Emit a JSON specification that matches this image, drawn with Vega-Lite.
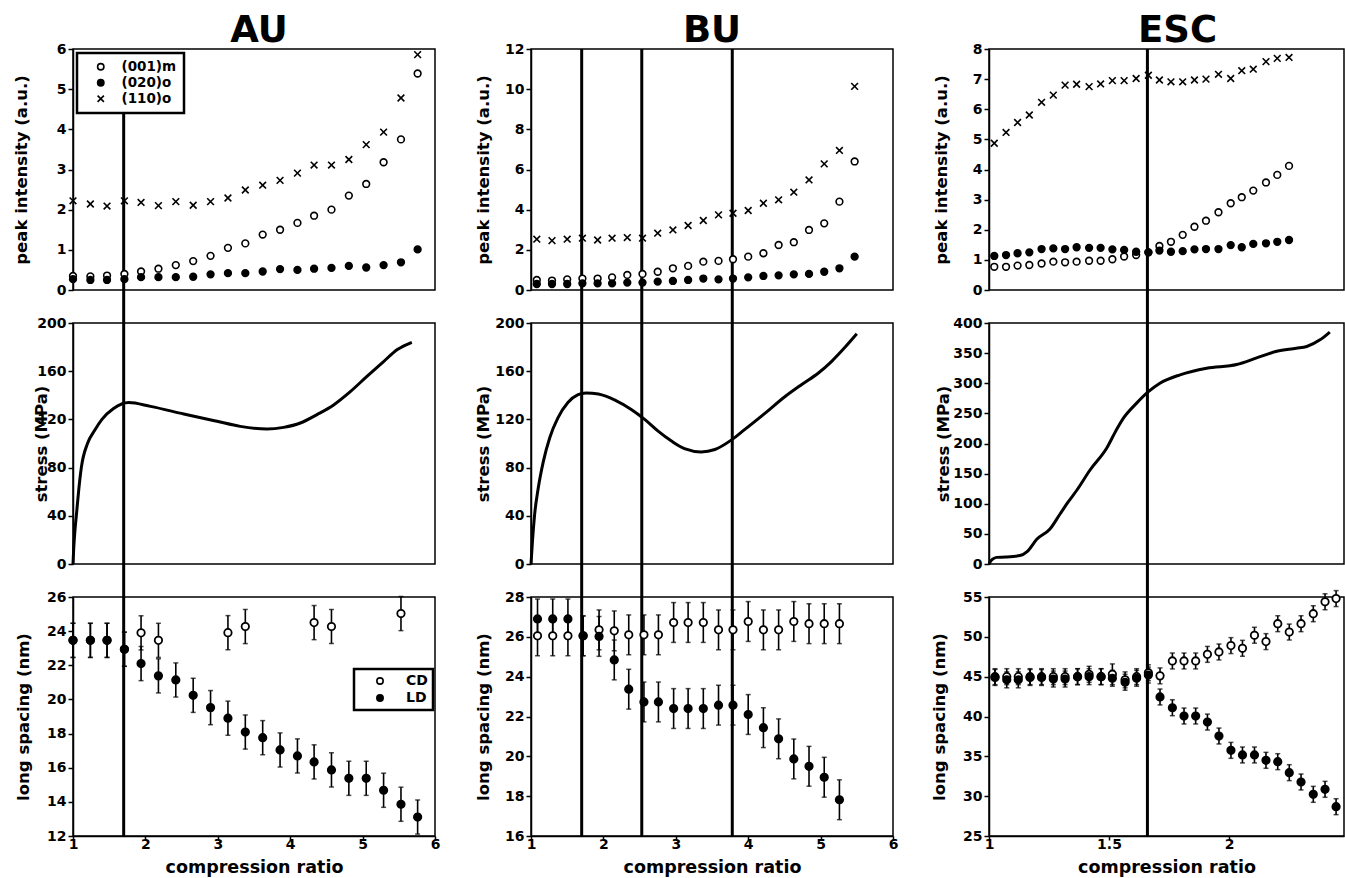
{
  "$schema": "https://vega.github.io/schema/vega-lite/v6.json",
  "padding": {"left": 12, "top": 11, "right": 0, "bottom": 0},
  "background": "white",
  "bounds": "flush",
  "columns": 3,
  "spacing": {"row": 33, "column": 96},
  "resolve": {"scale": {"shape": "independent", "fill": "independent", "stroke": "independent"}},
  "datasets": {
    "au_v": [{"x": 1.70}],
    "bu_v": [{"x": 1.70}, {"x": 2.53}, {"x": 3.78}],
    "esc_v": [{"x": 1.66}],
    "au_peak": [
      {"x":1.00,"I":2.22,"s":"(110)o"},{"x":1.24,"I":2.14,"s":"(110)o"},{"x":1.47,"I":2.09,"s":"(110)o"},{"x":1.71,"I":2.22,"s":"(110)o"},{"x":1.94,"I":2.18,"s":"(110)o"},{"x":2.18,"I":2.10,"s":"(110)o"},{"x":2.42,"I":2.20,"s":"(110)o"},{"x":2.66,"I":2.11,"s":"(110)o"},{"x":2.90,"I":2.20,"s":"(110)o"},{"x":3.14,"I":2.29,"s":"(110)o"},{"x":3.38,"I":2.49,"s":"(110)o"},{"x":3.62,"I":2.61,"s":"(110)o"},{"x":3.86,"I":2.73,"s":"(110)o"},{"x":4.10,"I":2.91,"s":"(110)o"},{"x":4.33,"I":3.11,"s":"(110)o"},{"x":4.57,"I":3.11,"s":"(110)o"},{"x":4.81,"I":3.25,"s":"(110)o"},{"x":5.05,"I":3.62,"s":"(110)o"},{"x":5.29,"I":3.93,"s":"(110)o"},{"x":5.53,"I":4.78,"s":"(110)o"},{"x":5.76,"I":5.86,"s":"(110)o"},
      {"x":1.00,"I":0.35,"s":"(001)m"},{"x":1.24,"I":0.34,"s":"(001)m"},{"x":1.47,"I":0.36,"s":"(001)m"},{"x":1.71,"I":0.40,"s":"(001)m"},{"x":1.94,"I":0.46,"s":"(001)m"},{"x":2.18,"I":0.53,"s":"(001)m"},{"x":2.42,"I":0.62,"s":"(001)m"},{"x":2.66,"I":0.72,"s":"(001)m"},{"x":2.90,"I":0.85,"s":"(001)m"},{"x":3.14,"I":1.05,"s":"(001)m"},{"x":3.38,"I":1.16,"s":"(001)m"},{"x":3.62,"I":1.38,"s":"(001)m"},{"x":3.86,"I":1.50,"s":"(001)m"},{"x":4.10,"I":1.67,"s":"(001)m"},{"x":4.33,"I":1.85,"s":"(001)m"},{"x":4.57,"I":2.00,"s":"(001)m"},{"x":4.81,"I":2.35,"s":"(001)m"},{"x":5.05,"I":2.64,"s":"(001)m"},{"x":5.29,"I":3.18,"s":"(001)m"},{"x":5.53,"I":3.75,"s":"(001)m"},{"x":5.76,"I":5.39,"s":"(001)m"},
      {"x":1.00,"I":0.27,"s":"(020)o"},{"x":1.24,"I":0.25,"s":"(020)o"},{"x":1.47,"I":0.25,"s":"(020)o"},{"x":1.71,"I":0.27,"s":"(020)o"},{"x":1.94,"I":0.32,"s":"(020)o"},{"x":2.18,"I":0.32,"s":"(020)o"},{"x":2.42,"I":0.32,"s":"(020)o"},{"x":2.66,"I":0.33,"s":"(020)o"},{"x":2.90,"I":0.39,"s":"(020)o"},{"x":3.14,"I":0.42,"s":"(020)o"},{"x":3.38,"I":0.42,"s":"(020)o"},{"x":3.62,"I":0.46,"s":"(020)o"},{"x":3.86,"I":0.52,"s":"(020)o"},{"x":4.10,"I":0.50,"s":"(020)o"},{"x":4.33,"I":0.53,"s":"(020)o"},{"x":4.57,"I":0.55,"s":"(020)o"},{"x":4.81,"I":0.60,"s":"(020)o"},{"x":5.05,"I":0.56,"s":"(020)o"},{"x":5.29,"I":0.62,"s":"(020)o"},{"x":5.53,"I":0.69,"s":"(020)o"},{"x":5.76,"I":1.01,"s":"(020)o"}
    ],
    "bu_peak": [
      {"x":1.08,"I":2.53,"s":"(110)o"},{"x":1.29,"I":2.46,"s":"(110)o"},{"x":1.50,"I":2.53,"s":"(110)o"},{"x":1.71,"I":2.58,"s":"(110)o"},{"x":1.92,"I":2.49,"s":"(110)o"},{"x":2.12,"I":2.58,"s":"(110)o"},{"x":2.33,"I":2.61,"s":"(110)o"},{"x":2.54,"I":2.58,"s":"(110)o"},{"x":2.75,"I":2.83,"s":"(110)o"},{"x":2.96,"I":2.99,"s":"(110)o"},{"x":3.17,"I":3.21,"s":"(110)o"},{"x":3.38,"I":3.46,"s":"(110)o"},{"x":3.59,"I":3.74,"s":"(110)o"},{"x":3.79,"I":3.82,"s":"(110)o"},{"x":4.00,"I":3.96,"s":"(110)o"},{"x":4.21,"I":4.32,"s":"(110)o"},{"x":4.42,"I":4.49,"s":"(110)o"},{"x":4.63,"I":4.87,"s":"(110)o"},{"x":4.84,"I":5.48,"s":"(110)o"},{"x":5.05,"I":6.28,"s":"(110)o"},{"x":5.26,"I":6.95,"s":"(110)o"},{"x":5.47,"I":10.14,"s":"(110)o"},
      {"x":1.08,"I":0.50,"s":"(001)m"},{"x":1.29,"I":0.47,"s":"(001)m"},{"x":1.50,"I":0.53,"s":"(001)m"},{"x":1.71,"I":0.57,"s":"(001)m"},{"x":1.92,"I":0.57,"s":"(001)m"},{"x":2.12,"I":0.63,"s":"(001)m"},{"x":2.33,"I":0.75,"s":"(001)m"},{"x":2.54,"I":0.80,"s":"(001)m"},{"x":2.75,"I":0.91,"s":"(001)m"},{"x":2.96,"I":1.08,"s":"(001)m"},{"x":3.17,"I":1.20,"s":"(001)m"},{"x":3.38,"I":1.41,"s":"(001)m"},{"x":3.59,"I":1.45,"s":"(001)m"},{"x":3.79,"I":1.53,"s":"(001)m"},{"x":4.00,"I":1.66,"s":"(001)m"},{"x":4.21,"I":1.83,"s":"(001)m"},{"x":4.42,"I":2.24,"s":"(001)m"},{"x":4.63,"I":2.38,"s":"(001)m"},{"x":4.84,"I":2.99,"s":"(001)m"},{"x":5.05,"I":3.32,"s":"(001)m"},{"x":5.26,"I":4.40,"s":"(001)m"},{"x":5.47,"I":6.40,"s":"(001)m"},
      {"x":1.08,"I":0.30,"s":"(020)o"},{"x":1.29,"I":0.30,"s":"(020)o"},{"x":1.50,"I":0.30,"s":"(020)o"},{"x":1.71,"I":0.33,"s":"(020)o"},{"x":1.92,"I":0.33,"s":"(020)o"},{"x":2.12,"I":0.33,"s":"(020)o"},{"x":2.33,"I":0.37,"s":"(020)o"},{"x":2.54,"I":0.37,"s":"(020)o"},{"x":2.75,"I":0.42,"s":"(020)o"},{"x":2.96,"I":0.45,"s":"(020)o"},{"x":3.17,"I":0.50,"s":"(020)o"},{"x":3.38,"I":0.57,"s":"(020)o"},{"x":3.59,"I":0.53,"s":"(020)o"},{"x":3.79,"I":0.57,"s":"(020)o"},{"x":4.00,"I":0.63,"s":"(020)o"},{"x":4.21,"I":0.70,"s":"(020)o"},{"x":4.42,"I":0.73,"s":"(020)o"},{"x":4.63,"I":0.78,"s":"(020)o"},{"x":4.84,"I":0.80,"s":"(020)o"},{"x":5.05,"I":0.91,"s":"(020)o"},{"x":5.26,"I":1.08,"s":"(020)o"},{"x":5.47,"I":1.66,"s":"(020)o"}
    ],
    "esc_peak": [
      {"x":1.022,"I":4.87,"s":"(110)o"},{"x":1.071,"I":5.23,"s":"(110)o"},{"x":1.119,"I":5.56,"s":"(110)o"},{"x":1.168,"I":5.81,"s":"(110)o"},{"x":1.219,"I":6.23,"s":"(110)o"},{"x":1.268,"I":6.47,"s":"(110)o"},{"x":1.317,"I":6.80,"s":"(110)o"},{"x":1.365,"I":6.83,"s":"(110)o"},{"x":1.417,"I":6.75,"s":"(110)o"},{"x":1.465,"I":6.84,"s":"(110)o"},{"x":1.514,"I":6.95,"s":"(110)o"},{"x":1.563,"I":6.95,"s":"(110)o"},{"x":1.613,"I":7.02,"s":"(110)o"},{"x":1.664,"I":7.13,"s":"(110)o"},{"x":1.710,"I":6.97,"s":"(110)o"},{"x":1.758,"I":6.91,"s":"(110)o"},{"x":1.807,"I":6.91,"s":"(110)o"},{"x":1.856,"I":6.97,"s":"(110)o"},{"x":1.904,"I":7.00,"s":"(110)o"},{"x":1.956,"I":7.16,"s":"(110)o"},{"x":2.007,"I":7.02,"s":"(110)o"},{"x":2.053,"I":7.28,"s":"(110)o"},{"x":2.101,"I":7.33,"s":"(110)o"},{"x":2.154,"I":7.58,"s":"(110)o"},{"x":2.201,"I":7.69,"s":"(110)o"},{"x":2.250,"I":7.72,"s":"(110)o"},
      {"x":1.022,"I":0.77,"s":"(001)m"},{"x":1.071,"I":0.77,"s":"(001)m"},{"x":1.119,"I":0.81,"s":"(001)m"},{"x":1.168,"I":0.83,"s":"(001)m"},{"x":1.219,"I":0.88,"s":"(001)m"},{"x":1.268,"I":0.94,"s":"(001)m"},{"x":1.317,"I":0.92,"s":"(001)m"},{"x":1.365,"I":0.94,"s":"(001)m"},{"x":1.417,"I":0.97,"s":"(001)m"},{"x":1.465,"I":0.97,"s":"(001)m"},{"x":1.514,"I":1.02,"s":"(001)m"},{"x":1.563,"I":1.11,"s":"(001)m"},{"x":1.613,"I":1.16,"s":"(001)m"},{"x":1.664,"I":1.25,"s":"(001)m"},{"x":1.710,"I":1.46,"s":"(001)m"},{"x":1.758,"I":1.60,"s":"(001)m"},{"x":1.807,"I":1.83,"s":"(001)m"},{"x":1.856,"I":2.10,"s":"(001)m"},{"x":1.904,"I":2.30,"s":"(001)m"},{"x":1.956,"I":2.58,"s":"(001)m"},{"x":2.007,"I":2.88,"s":"(001)m"},{"x":2.053,"I":3.08,"s":"(001)m"},{"x":2.101,"I":3.30,"s":"(001)m"},{"x":2.154,"I":3.57,"s":"(001)m"},{"x":2.201,"I":3.82,"s":"(001)m"},{"x":2.250,"I":4.12,"s":"(001)m"},
      {"x":1.022,"I":1.13,"s":"(020)o"},{"x":1.071,"I":1.16,"s":"(020)o"},{"x":1.119,"I":1.22,"s":"(020)o"},{"x":1.168,"I":1.25,"s":"(020)o"},{"x":1.219,"I":1.36,"s":"(020)o"},{"x":1.268,"I":1.38,"s":"(020)o"},{"x":1.317,"I":1.36,"s":"(020)o"},{"x":1.365,"I":1.42,"s":"(020)o"},{"x":1.417,"I":1.40,"s":"(020)o"},{"x":1.465,"I":1.40,"s":"(020)o"},{"x":1.514,"I":1.35,"s":"(020)o"},{"x":1.563,"I":1.33,"s":"(020)o"},{"x":1.613,"I":1.27,"s":"(020)o"},{"x":1.664,"I":1.25,"s":"(020)o"},{"x":1.710,"I":1.31,"s":"(020)o"},{"x":1.758,"I":1.27,"s":"(020)o"},{"x":1.807,"I":1.29,"s":"(020)o"},{"x":1.856,"I":1.35,"s":"(020)o"},{"x":1.904,"I":1.36,"s":"(020)o"},{"x":1.956,"I":1.36,"s":"(020)o"},{"x":2.007,"I":1.49,"s":"(020)o"},{"x":2.053,"I":1.42,"s":"(020)o"},{"x":2.101,"I":1.53,"s":"(020)o"},{"x":2.154,"I":1.55,"s":"(020)o"},{"x":2.201,"I":1.60,"s":"(020)o"},{"x":2.250,"I":1.66,"s":"(020)o"}
    ],
    "au_stress": [
      {"x":1.0,"y":0},{"x":1.01,"y":13},{"x":1.03,"y":30},{"x":1.046,"y":40},{"x":1.08,"y":62},{"x":1.115,"y":80},{"x":1.20,"y":100},{"x":1.30,"y":111},{"x":1.40,"y":120},{"x":1.56,"y":129},{"x":1.77,"y":134},{"x":2.07,"y":130.8},{"x":2.53,"y":124.5},{"x":2.99,"y":118.4},{"x":3.31,"y":114.2},{"x":3.68,"y":112},{"x":3.91,"y":113.4},{"x":4.14,"y":117},{"x":4.37,"y":124},{"x":4.60,"y":132},{"x":4.83,"y":143},{"x":5.06,"y":155.7},{"x":5.29,"y":168},{"x":5.48,"y":178},{"x":5.68,"y":184}
    ],
    "bu_stress": [
      {"x":1.0,"y":0},{"x":1.02,"y":18.8},{"x":1.05,"y":41},{"x":1.10,"y":63},{"x":1.17,"y":85},{"x":1.26,"y":105},{"x":1.37,"y":121},{"x":1.51,"y":134},{"x":1.65,"y":140.5},{"x":1.76,"y":142},{"x":1.93,"y":141},{"x":2.16,"y":136},{"x":2.39,"y":128},{"x":2.57,"y":120},{"x":2.76,"y":110},{"x":2.94,"y":102},{"x":3.12,"y":95.7},{"x":3.35,"y":93},{"x":3.54,"y":95},{"x":3.77,"y":103},{"x":3.95,"y":111.5},{"x":4.23,"y":125},{"x":4.51,"y":139},{"x":4.74,"y":149},{"x":4.97,"y":158.5},{"x":5.15,"y":168},{"x":5.34,"y":180},{"x":5.50,"y":191}
    ],
    "esc_stress": [
      {"x":1.0,"y":0},{"x":1.004,"y":3},{"x":1.015,"y":8},{"x":1.032,"y":11},{"x":1.07,"y":11.5},{"x":1.129,"y":14},{"x":1.16,"y":21},{"x":1.199,"y":41},{"x":1.254,"y":58},{"x":1.296,"y":83},{"x":1.33,"y":103},{"x":1.365,"y":122},{"x":1.421,"y":156},{"x":1.49,"y":192},{"x":1.53,"y":222},{"x":1.56,"y":242},{"x":1.615,"y":267},{"x":1.664,"y":286},{"x":1.712,"y":300},{"x":1.796,"y":314},{"x":1.907,"y":325},{"x":2.032,"y":331},{"x":2.115,"y":342},{"x":2.199,"y":353},{"x":2.28,"y":358},{"x":2.324,"y":361},{"x":2.379,"y":372},{"x":2.42,"y":385}
    ],
    "au_ls": [
      {"x":1.00,"y":23.46,"e":1,"s":"CD"},{"x":1.24,"y":23.46,"e":1,"s":"CD"},{"x":1.47,"y":23.46,"e":1,"s":"CD"},{"x":1.71,"y":22.94,"e":1,"s":"CD"},{"x":1.94,"y":23.9,"e":1,"s":"CD"},{"x":2.18,"y":23.46,"e":1,"s":"CD"},{"x":3.14,"y":23.91,"e":1,"s":"CD"},{"x":3.38,"y":24.27,"e":1,"s":"CD"},{"x":4.33,"y":24.5,"e":1,"s":"CD"},{"x":4.57,"y":24.27,"e":1,"s":"CD"},{"x":5.53,"y":25.03,"e":1,"s":"CD"},
      {"x":1.00,"y":23.46,"e":1,"s":"LD"},{"x":1.24,"y":23.46,"e":1,"s":"LD"},{"x":1.47,"y":23.46,"e":1,"s":"LD"},{"x":1.71,"y":22.94,"e":1,"s":"LD"},{"x":1.94,"y":22.1,"e":1,"s":"LD"},{"x":2.18,"y":21.38,"e":1,"s":"LD"},{"x":2.42,"y":21.14,"e":1,"s":"LD"},{"x":2.66,"y":20.24,"e":1,"s":"LD"},{"x":2.90,"y":19.52,"e":1,"s":"LD"},{"x":3.14,"y":18.9,"e":1,"s":"LD"},{"x":3.38,"y":18.09,"e":1,"s":"LD"},{"x":3.62,"y":17.76,"e":1,"s":"LD"},{"x":3.86,"y":17.04,"e":1,"s":"LD"},{"x":4.10,"y":16.69,"e":1,"s":"LD"},{"x":4.33,"y":16.34,"e":1,"s":"LD"},{"x":4.57,"y":15.87,"e":1,"s":"LD"},{"x":4.81,"y":15.38,"e":1,"s":"LD"},{"x":5.05,"y":15.38,"e":1,"s":"LD"},{"x":5.29,"y":14.68,"e":1,"s":"LD"},{"x":5.53,"y":13.86,"e":1,"s":"LD"},{"x":5.76,"y":13.11,"e":1,"s":"LD"}
    ],
    "bu_ls": [
      {"x":1.09,"y":26.05,"e":1,"s":"CD"},{"x":1.30,"y":26.05,"e":1,"s":"CD"},{"x":1.51,"y":26.05,"e":1,"s":"CD"},{"x":1.72,"y":26.05,"e":1,"s":"CD"},{"x":1.94,"y":26.35,"e":1,"s":"CD"},{"x":2.15,"y":26.3,"e":1,"s":"CD"},{"x":2.35,"y":26.1,"e":1,"s":"CD"},{"x":2.56,"y":26.1,"e":1,"s":"CD"},{"x":2.76,"y":26.1,"e":1,"s":"CD"},{"x":2.97,"y":26.72,"e":1,"s":"CD"},{"x":3.17,"y":26.72,"e":1,"s":"CD"},{"x":3.38,"y":26.72,"e":1,"s":"CD"},{"x":3.59,"y":26.35,"e":1,"s":"CD"},{"x":3.79,"y":26.35,"e":1,"s":"CD"},{"x":4.00,"y":26.77,"e":1,"s":"CD"},{"x":4.21,"y":26.35,"e":1,"s":"CD"},{"x":4.42,"y":26.35,"e":1,"s":"CD"},{"x":4.63,"y":26.77,"e":1,"s":"CD"},{"x":4.84,"y":26.66,"e":1,"s":"CD"},{"x":5.05,"y":26.66,"e":1,"s":"CD"},{"x":5.26,"y":26.66,"e":1,"s":"CD"},
      {"x":1.09,"y":26.9,"e":1,"s":"LD"},{"x":1.30,"y":26.9,"e":1,"s":"LD"},{"x":1.51,"y":26.9,"e":1,"s":"LD"},{"x":1.72,"y":26.05,"e":1,"s":"LD"},{"x":1.94,"y":26.02,"e":1,"s":"LD"},{"x":2.15,"y":24.84,"e":1,"s":"LD"},{"x":2.35,"y":23.37,"e":1,"s":"LD"},{"x":2.56,"y":22.73,"e":1,"s":"LD"},{"x":2.76,"y":22.73,"e":1,"s":"LD"},{"x":2.97,"y":22.4,"e":1,"s":"LD"},{"x":3.17,"y":22.4,"e":1,"s":"LD"},{"x":3.38,"y":22.4,"e":1,"s":"LD"},{"x":3.59,"y":22.57,"e":1,"s":"LD"},{"x":3.79,"y":22.57,"e":1,"s":"LD"},{"x":4.00,"y":22.1,"e":1,"s":"LD"},{"x":4.21,"y":21.44,"e":1,"s":"LD"},{"x":4.42,"y":20.88,"e":1,"s":"LD"},{"x":4.63,"y":19.87,"e":1,"s":"LD"},{"x":4.84,"y":19.5,"e":1,"s":"LD"},{"x":5.05,"y":18.95,"e":1,"s":"LD"},{"x":5.26,"y":17.82,"e":1,"s":"LD"}
    ],
    "esc_ls": [
      {"x":1.025,"y":45.0,"e":1,"s":"CD"},{"x":1.074,"y":45.0,"e":1,"s":"CD"},{"x":1.122,"y":45.0,"e":1,"s":"CD"},{"x":1.171,"y":45.0,"e":1,"s":"CD"},{"x":1.219,"y":45.0,"e":1,"s":"CD"},{"x":1.268,"y":45.0,"e":1,"s":"CD"},{"x":1.317,"y":45.0,"e":1,"s":"CD"},{"x":1.369,"y":45.0,"e":1,"s":"CD"},{"x":1.417,"y":45.3,"e":1,"s":"CD"},{"x":1.467,"y":45.0,"e":1,"s":"CD"},{"x":1.514,"y":45.3,"e":1.3,"s":"CD"},{"x":1.567,"y":44.6,"e":1,"s":"CD"},{"x":1.615,"y":45.0,"e":1,"s":"CD"},{"x":1.664,"y":45.5,"e":1,"s":"CD"},
      {"x":1.7125,"y":45.1,"e":1,"s":"CD"},{"x":1.764,"y":46.97,"e":1,"s":"CD"},{"x":1.8125,"y":46.97,"e":1,"s":"CD"},{"x":1.861,"y":46.97,"e":1,"s":"CD"},{"x":1.91,"y":47.8,"e":1,"s":"CD"},{"x":1.958,"y":48.1,"e":1,"s":"CD"},{"x":2.008,"y":48.9,"e":1,"s":"CD"},{"x":2.056,"y":48.56,"e":1,"s":"CD"},{"x":2.106,"y":50.2,"e":1,"s":"CD"},{"x":2.154,"y":49.4,"e":1,"s":"CD"},{"x":2.203,"y":51.65,"e":1,"s":"CD"},{"x":2.251,"y":50.6,"e":1,"s":"CD"},{"x":2.30,"y":51.65,"e":1,"s":"CD"},{"x":2.351,"y":52.9,"e":1,"s":"CD"},{"x":2.40,"y":54.4,"e":1,"s":"CD"},{"x":2.446,"y":54.8,"e":1,"s":"CD"},
      {"x":1.025,"y":44.9,"e":1,"s":"LD"},{"x":1.074,"y":44.6,"e":1,"s":"LD"},{"x":1.122,"y":44.6,"e":1,"s":"LD"},{"x":1.171,"y":44.9,"e":1,"s":"LD"},{"x":1.219,"y":44.9,"e":1,"s":"LD"},{"x":1.268,"y":44.7,"e":1,"s":"LD"},{"x":1.317,"y":44.7,"e":1,"s":"LD"},{"x":1.369,"y":45.0,"e":1,"s":"LD"},{"x":1.417,"y":45.0,"e":1,"s":"LD"},{"x":1.467,"y":45.0,"e":1,"s":"LD"},{"x":1.514,"y":44.8,"e":1,"s":"LD"},{"x":1.567,"y":44.3,"e":1,"s":"LD"},{"x":1.615,"y":44.8,"e":1,"s":"LD"},{"x":1.664,"y":45.2,"e":1,"s":"LD"},
      {"x":1.7125,"y":42.45,"e":1,"s":"LD"},{"x":1.764,"y":41.1,"e":1,"s":"LD"},{"x":1.8125,"y":40.06,"e":1,"s":"LD"},{"x":1.861,"y":40.06,"e":1,"s":"LD"},{"x":1.91,"y":39.3,"e":1,"s":"LD"},{"x":1.958,"y":37.55,"e":1,"s":"LD"},{"x":2.008,"y":35.75,"e":1,"s":"LD"},{"x":2.056,"y":35.17,"e":1,"s":"LD"},{"x":2.106,"y":35.17,"e":1,"s":"LD"},{"x":2.154,"y":34.5,"e":1,"s":"LD"},{"x":2.203,"y":34.33,"e":1,"s":"LD"},{"x":2.251,"y":32.95,"e":1,"s":"LD"},{"x":2.30,"y":31.78,"e":1,"s":"LD"},{"x":2.351,"y":30.23,"e":1,"s":"LD"},{"x":2.40,"y":30.86,"e":1,"s":"LD"},{"x":2.446,"y":28.68,"e":1,"s":"LD"}
    ]
  },
  "concat": [
    {
      "width": 362, "height": 241,
      "title": {"text": "AU", "dx": 5},
      "layer": [
        {"data": {"name": "au_v"}, "mark": {"type": "rule", "color": "black", "strokeWidth": 3},
         "encoding": {"x": {"field": "x", "type": "quantitative", "scale": {"domain": [1, 6], "nice": false, "zero": false}, "axis": null},
                      "y": {"datum": 4.43, "type": "quantitative", "scale": {"domain": [0, 6], "nice": false, "zero": false}, "axis": {"values": [0,1,2,3,4,5,6], "title": "peak intensity (a.u.)", "titleX": -52, "titleBaseline": "middle"}},
                      "y2": {"datum": -0.82}}},
        {"data": {"name": "au_peak"}, "mark": {"type": "point", "filled": true, "size": 45, "strokeWidth": 1.6, "opacity": 1},
         "encoding": {"x": {"field": "x", "type": "quantitative", "scale": {"domain": [1, 6], "nice": false, "zero": false}, "axis": null},
                      "y": {"field": "I", "type": "quantitative", "scale": {"domain": [0, 6], "nice": false, "zero": false}, "axis": {"values": [0,1,2,3,4,5,6], "title": "peak intensity (a.u.)", "titleX": -52, "titleBaseline": "middle"}},
                      "shape": {"field": "s", "type": "nominal", "scale": {"domain": ["(001)m","(020)o","(110)o"], "range": ["circle","circle","M-1,-1L1,1M1,-1L-1,1"]},
                                "legend": {"orient": "top-left", "offset": 4, "title": null, "padding": 7, "strokeColor": "black", "fillColor": "white", "symbolOffset": 10, "labelOffset": 14, "labelFontSize": 13.5, "symbolSize": 40, "symbolStrokeWidth": 1.6, "rowPadding": 1}},
                      "fill": {"field": "s", "type": "nominal", "scale": {"domain": ["(001)m","(020)o","(110)o"], "range": ["white","black","transparent"]},
                                "legend": {"orient": "top-left", "offset": 4, "title": null, "padding": 7, "strokeColor": "black", "fillColor": "white", "symbolOffset": 10, "labelOffset": 14, "labelFontSize": 13.5, "symbolSize": 40, "symbolStrokeWidth": 1.6, "rowPadding": 1}},
                      "stroke": {"field": "s", "type": "nominal", "scale": {"domain": ["(001)m","(020)o","(110)o"], "range": ["black","black","black"]},
                                "legend": {"orient": "top-left", "offset": 4, "title": null, "padding": 7, "strokeColor": "black", "fillColor": "white", "symbolOffset": 10, "labelOffset": 14, "labelFontSize": 13.5, "symbolSize": 40, "symbolStrokeWidth": 1.6, "rowPadding": 1}}}}
      ]
    },
    {
      "width": 362, "height": 241,
      "title": {"text": "BU", "dx": 0},
      "layer": [
        {"data": {"name": "bu_v"}, "mark": {"type": "rule", "color": "black", "strokeWidth": 3},
         "encoding": {"x": {"field": "x", "type": "quantitative", "scale": {"domain": [1, 6], "nice": false, "zero": false}, "axis": null},
                      "y": {"datum": 12, "type": "quantitative", "scale": {"domain": [0, 12], "nice": false, "zero": false}, "axis": {"values": [0,2,4,6,8,10,12], "title": "peak intensity (a.u.)", "titleX": -48, "titleBaseline": "middle"}},
                      "y2": {"datum": -1.64}}},
        {"data": {"name": "bu_peak"}, "mark": {"type": "point", "filled": true, "size": 45, "strokeWidth": 1.6, "opacity": 1},
         "encoding": {"x": {"field": "x", "type": "quantitative", "scale": {"domain": [1, 6], "nice": false, "zero": false}, "axis": null},
                      "y": {"field": "I", "type": "quantitative", "scale": {"domain": [0, 12], "nice": false, "zero": false}, "axis": {"values": [0,2,4,6,8,10,12], "title": "peak intensity (a.u.)", "titleX": -48, "titleBaseline": "middle"}},
                      "shape": {"field": "s", "type": "nominal", "scale": {"domain": ["(001)m","(020)o","(110)o"], "range": ["circle","circle","M-1,-1L1,1M1,-1L-1,1"]}, "legend": null},
                      "fill": {"field": "s", "type": "nominal", "scale": {"domain": ["(001)m","(020)o","(110)o"], "range": ["white","black","transparent"]}, "legend": null},
                      "stroke": {"field": "s", "type": "nominal", "scale": {"domain": ["(001)m","(020)o","(110)o"], "range": ["black","black","black"]}, "legend": null}}}
      ]
    },
    {
      "width": 355, "height": 241,
      "title": {"text": "ESC", "dx": 11},
      "layer": [
        {"data": {"name": "esc_v"}, "mark": {"type": "rule", "color": "black", "strokeWidth": 3},
         "encoding": {"x": {"field": "x", "type": "quantitative", "scale": {"domain": [1, 2.479], "nice": false, "zero": false}, "axis": null},
                      "y": {"datum": 8, "type": "quantitative", "scale": {"domain": [0, 8], "nice": false, "zero": false}, "axis": {"values": [0,1,2,3,4,5,6,7,8], "title": "peak intensity (a.u.)", "titleX": -48, "titleBaseline": "middle"}},
                      "y2": {"datum": -1.1}}},
        {"data": {"name": "esc_peak"}, "mark": {"type": "point", "filled": true, "size": 45, "strokeWidth": 1.6, "opacity": 1},
         "encoding": {"x": {"field": "x", "type": "quantitative", "scale": {"domain": [1, 2.479], "nice": false, "zero": false}, "axis": null},
                      "y": {"field": "I", "type": "quantitative", "scale": {"domain": [0, 8], "nice": false, "zero": false}, "axis": {"values": [0,1,2,3,4,5,6,7,8], "title": "peak intensity (a.u.)", "titleX": -48, "titleBaseline": "middle"}},
                      "shape": {"field": "s", "type": "nominal", "scale": {"domain": ["(001)m","(020)o","(110)o"], "range": ["circle","circle","M-1,-1L1,1M1,-1L-1,1"]}, "legend": null},
                      "fill": {"field": "s", "type": "nominal", "scale": {"domain": ["(001)m","(020)o","(110)o"], "range": ["white","black","transparent"]}, "legend": null},
                      "stroke": {"field": "s", "type": "nominal", "scale": {"domain": ["(001)m","(020)o","(110)o"], "range": ["black","black","black"]}, "legend": null}}}
      ]
    },
    {
      "width": 362, "height": 241,
      "layer": [
        {"data": {"name": "au_v"}, "mark": {"type": "rule", "color": "black", "strokeWidth": 3},
         "encoding": {"x": {"field": "x", "type": "quantitative", "scale": {"domain": [1, 6], "nice": false, "zero": false}, "axis": null},
                      "y": {"datum": 200, "type": "quantitative", "scale": {"domain": [0, 200], "nice": false, "zero": false}, "axis": {"values": [0,40,80,120,160,200], "title": "stress  (MPa)", "titleX": -32, "titleBaseline": "middle"}},
                      "y2": {"datum": -27.4}}},
        {"data": {"name": "au_stress"}, "mark": {"type": "line", "color": "black", "strokeWidth": 3, "interpolate": "monotone"},
         "encoding": {"x": {"field": "x", "type": "quantitative", "scale": {"domain": [1, 6], "nice": false, "zero": false}, "axis": null},
                      "y": {"field": "y", "type": "quantitative", "scale": {"domain": [0, 200], "nice": false, "zero": false}, "axis": {"values": [0,40,80,120,160,200], "title": "stress  (MPa)", "titleX": -32, "titleBaseline": "middle"}}}}
      ]
    },
    {
      "width": 362, "height": 241,
      "layer": [
        {"data": {"name": "bu_v"}, "mark": {"type": "rule", "color": "black", "strokeWidth": 3},
         "encoding": {"x": {"field": "x", "type": "quantitative", "scale": {"domain": [1, 6], "nice": false, "zero": false}, "axis": null},
                      "y": {"datum": 200, "type": "quantitative", "scale": {"domain": [0, 200], "nice": false, "zero": false}, "axis": {"values": [0,40,80,120,160,200], "title": "stress  (MPa)", "titleX": -48, "titleBaseline": "middle"}},
                      "y2": {"datum": -27.4}}},
        {"data": {"name": "bu_stress"}, "mark": {"type": "line", "color": "black", "strokeWidth": 3, "interpolate": "monotone"},
         "encoding": {"x": {"field": "x", "type": "quantitative", "scale": {"domain": [1, 6], "nice": false, "zero": false}, "axis": null},
                      "y": {"field": "y", "type": "quantitative", "scale": {"domain": [0, 200], "nice": false, "zero": false}, "axis": {"values": [0,40,80,120,160,200], "title": "stress  (MPa)", "titleX": -48, "titleBaseline": "middle"}}}}
      ]
    },
    {
      "width": 355, "height": 241,
      "layer": [
        {"data": {"name": "esc_v"}, "mark": {"type": "rule", "color": "black", "strokeWidth": 3},
         "encoding": {"x": {"field": "x", "type": "quantitative", "scale": {"domain": [1, 2.479], "nice": false, "zero": false}, "axis": null},
                      "y": {"datum": 400, "type": "quantitative", "scale": {"domain": [0, 400], "nice": false, "zero": false}, "axis": {"values": [0,50,100,150,200,250,300,350,400], "title": "stress  (MPa)", "titleX": -46, "titleBaseline": "middle"}},
                      "y2": {"datum": -54.8}}},
        {"data": {"name": "esc_stress"}, "mark": {"type": "line", "color": "black", "strokeWidth": 3, "interpolate": "monotone"},
         "encoding": {"x": {"field": "x", "type": "quantitative", "scale": {"domain": [1, 2.479], "nice": false, "zero": false}, "axis": null},
                      "y": {"field": "y", "type": "quantitative", "scale": {"domain": [0, 400], "nice": false, "zero": false}, "axis": {"values": [0,50,100,150,200,250,300,350,400], "title": "stress  (MPa)", "titleX": -46, "titleBaseline": "middle"}}}}
      ]
    },
    {
      "width": 362, "height": 239,
      "layer": [
        {"data": {"name": "au_v"}, "mark": {"type": "rule", "color": "black", "strokeWidth": 3},
         "encoding": {"x": {"field": "x", "type": "quantitative", "scale": {"domain": [1, 6], "nice": false, "zero": false}, "axis": {"values": [1,2,3,4,5,6], "format": "~g", "title": "compression ratio"}},
                      "y": {"datum": 26, "type": "quantitative", "scale": {"domain": [12, 26], "nice": false, "zero": false}, "axis": {"values": [12,14,16,18,20,22,24,26], "title": "long spacing (nm)", "titleX": -50, "titleBaseline": "middle"}},
                      "y2": {"datum": 12}}},
        {"data": {"name": "au_ls"}, "mark": {"type": "errorbar", "color": "black", "ticks": {"size": 5, "thickness": 1.5}, "rule": {"strokeWidth": 1.6}},
         "encoding": {"x": {"field": "x", "type": "quantitative", "scale": {"domain": [1, 6], "nice": false, "zero": false}, "axis": {"values": [1,2,3,4,5,6], "format": "~g", "title": "compression ratio"}},
                      "y": {"field": "y", "type": "quantitative", "scale": {"domain": [12, 26], "nice": false, "zero": false}, "axis": {"values": [12,14,16,18,20,22,24,26], "title": "long spacing (nm)", "titleX": -50, "titleBaseline": "middle"}},
                      "yError": {"field": "e"}}},
        {"data": {"name": "au_ls"}, "mark": {"type": "point", "filled": true, "size": 55, "strokeWidth": 1.8, "opacity": 1},
         "encoding": {"x": {"field": "x", "type": "quantitative", "scale": {"domain": [1, 6], "nice": false, "zero": false}, "axis": {"values": [1,2,3,4,5,6], "format": "~g", "title": "compression ratio"}},
                      "y": {"field": "y", "type": "quantitative", "scale": {"domain": [12, 26], "nice": false, "zero": false}, "axis": {"values": [12,14,16,18,20,22,24,26], "title": "long spacing (nm)", "titleX": -50, "titleBaseline": "middle"}},
                      "shape": {"field": "s", "type": "nominal", "scale": {"domain": ["CD","LD"], "range": ["circle","circle"]},
                                "legend": {"orient": "none", "legendX": 281, "legendY": 72, "title": null, "padding": 5, "strokeColor": "black", "fillColor": "white", "symbolOffset": 14, "labelOffset": 19, "labelFontSize": 14, "symbolSize": 40, "symbolStrokeWidth": 1.6, "rowPadding": 3}},
                      "fill": {"field": "s", "type": "nominal", "scale": {"domain": ["CD","LD"], "range": ["white","black"]},
                                "legend": {"orient": "none", "legendX": 281, "legendY": 72, "title": null, "padding": 5, "strokeColor": "black", "fillColor": "white", "symbolOffset": 14, "labelOffset": 19, "labelFontSize": 14, "symbolSize": 40, "symbolStrokeWidth": 1.6, "rowPadding": 3}},
                      "stroke": {"field": "s", "type": "nominal", "scale": {"domain": ["CD","LD"], "range": ["black","black"]},
                                "legend": {"orient": "none", "legendX": 281, "legendY": 72, "title": null, "padding": 5, "strokeColor": "black", "fillColor": "white", "symbolOffset": 14, "labelOffset": 19, "labelFontSize": 14, "symbolSize": 40, "symbolStrokeWidth": 1.6, "rowPadding": 3}}}}
      ]
    },
    {
      "width": 362, "height": 239,
      "layer": [
        {"data": {"name": "bu_v"}, "mark": {"type": "rule", "color": "black", "strokeWidth": 3},
         "encoding": {"x": {"field": "x", "type": "quantitative", "scale": {"domain": [1, 6], "nice": false, "zero": false}, "axis": {"values": [1,2,3,4,5,6], "format": "~g", "title": "compression ratio"}},
                      "y": {"datum": 28, "type": "quantitative", "scale": {"domain": [16, 28], "nice": false, "zero": false}, "axis": {"values": [16,18,20,22,24,26,28], "title": "long spacing (nm)", "titleX": -48, "titleBaseline": "middle"}},
                      "y2": {"datum": 16}}},
        {"data": {"name": "bu_ls"}, "mark": {"type": "errorbar", "color": "black", "ticks": {"size": 5, "thickness": 1.5}, "rule": {"strokeWidth": 1.6}},
         "encoding": {"x": {"field": "x", "type": "quantitative", "scale": {"domain": [1, 6], "nice": false, "zero": false}, "axis": {"values": [1,2,3,4,5,6], "format": "~g", "title": "compression ratio"}},
                      "y": {"field": "y", "type": "quantitative", "scale": {"domain": [16, 28], "nice": false, "zero": false}, "axis": {"values": [16,18,20,22,24,26,28], "title": "long spacing (nm)", "titleX": -48, "titleBaseline": "middle"}},
                      "yError": {"field": "e"}}},
        {"data": {"name": "bu_ls"}, "mark": {"type": "point", "filled": true, "size": 55, "strokeWidth": 1.8, "opacity": 1},
         "encoding": {"x": {"field": "x", "type": "quantitative", "scale": {"domain": [1, 6], "nice": false, "zero": false}, "axis": {"values": [1,2,3,4,5,6], "format": "~g", "title": "compression ratio"}},
                      "y": {"field": "y", "type": "quantitative", "scale": {"domain": [16, 28], "nice": false, "zero": false}, "axis": {"values": [16,18,20,22,24,26,28], "title": "long spacing (nm)", "titleX": -48, "titleBaseline": "middle"}},
                      "shape": {"field": "s", "type": "nominal", "scale": {"domain": ["CD","LD"], "range": ["circle","circle"]}, "legend": null},
                      "fill": {"field": "s", "type": "nominal", "scale": {"domain": ["CD","LD"], "range": ["white","black"]}, "legend": null},
                      "stroke": {"field": "s", "type": "nominal", "scale": {"domain": ["CD","LD"], "range": ["black","black"]}, "legend": null}}}
      ]
    },
    {
      "width": 355, "height": 239,
      "layer": [
        {"data": {"name": "esc_v"}, "mark": {"type": "rule", "color": "black", "strokeWidth": 3},
         "encoding": {"x": {"field": "x", "type": "quantitative", "scale": {"domain": [1, 2.479], "nice": false, "zero": false}, "axis": {"values": [1,1.5,2], "format": "~g", "title": "compression ratio"}},
                      "y": {"datum": 55, "type": "quantitative", "scale": {"domain": [25, 55], "nice": false, "zero": false}, "axis": {"values": [25,30,35,40,45,50,55], "title": "long spacing (nm)", "titleX": -50, "titleBaseline": "middle"}},
                      "y2": {"datum": 25}}},
        {"data": {"name": "esc_ls"}, "mark": {"type": "errorbar", "color": "black", "ticks": {"size": 5, "thickness": 1.5}, "rule": {"strokeWidth": 1.6}},
         "encoding": {"x": {"field": "x", "type": "quantitative", "scale": {"domain": [1, 2.479], "nice": false, "zero": false}, "axis": {"values": [1,1.5,2], "format": "~g", "title": "compression ratio"}},
                      "y": {"field": "y", "type": "quantitative", "scale": {"domain": [25, 55], "nice": false, "zero": false}, "axis": {"values": [25,30,35,40,45,50,55], "title": "long spacing (nm)", "titleX": -50, "titleBaseline": "middle"}},
                      "yError": {"field": "e"}}},
        {"data": {"name": "esc_ls"}, "mark": {"type": "point", "filled": true, "size": 55, "strokeWidth": 1.8, "opacity": 1},
         "encoding": {"x": {"field": "x", "type": "quantitative", "scale": {"domain": [1, 2.479], "nice": false, "zero": false}, "axis": {"values": [1,1.5,2], "format": "~g", "title": "compression ratio"}},
                      "y": {"field": "y", "type": "quantitative", "scale": {"domain": [25, 55], "nice": false, "zero": false}, "axis": {"values": [25,30,35,40,45,50,55], "title": "long spacing (nm)", "titleX": -50, "titleBaseline": "middle"}},
                      "shape": {"field": "s", "type": "nominal", "scale": {"domain": ["CD","LD"], "range": ["circle","circle"]}, "legend": null},
                      "fill": {"field": "s", "type": "nominal", "scale": {"domain": ["CD","LD"], "range": ["white","black"]}, "legend": null},
                      "stroke": {"field": "s", "type": "nominal", "scale": {"domain": ["CD","LD"], "range": ["black","black"]}, "legend": null}}}
      ]
    }
  ],
  "config": {
    "font": "DejaVu Sans",
    "view": {"stroke": "black", "strokeWidth": 1.5},
    "axis": {"domainColor": "black", "domainWidth": 1.5, "tickColor": "black", "tickWidth": 1.5, "tickSize": 5,
             "labelFont": "DejaVu Sans", "labelFontWeight": "bold", "labelFontSize": 14, "labelColor": "black", "labelPadding": 2,
             "titleFont": "DejaVu Sans", "titleFontWeight": "bold", "titleFontSize": 16.5, "titleColor": "black", "grid": false, "labelFlush": false, "labelOverlap": false},
    "axisX": {"tickSize": 4, "labelPadding": -3, "titleFontSize": 17.5, "titlePadding": 7},
    "legend": {"labelFont": "DejaVu Sans", "labelFontWeight": "bold", "labelColor": "black", "strokeWidth": 2.5},
    "title": {"font": "DejaVu Sans", "fontWeight": "bold", "fontSize": 37, "color": "black", "anchor": "middle", "baseline": "alphabetic", "offset": -8}
  }
}
